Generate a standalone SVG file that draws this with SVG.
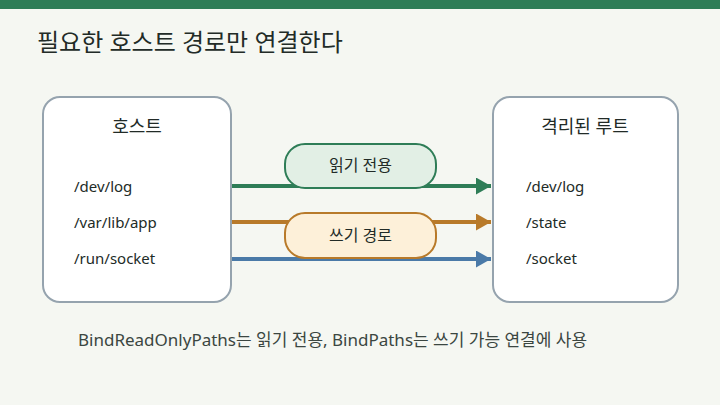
<svg xmlns="http://www.w3.org/2000/svg" width="720" height="405" viewBox="0 0 720 405">
<style>
text{font-family:"Noto Sans","Noto Sans CJK KR",sans-serif;fill:#222b27}
.box{fill:#ffffff;stroke:#95a3ae;stroke-width:2}
.path{font-size:15px}
.btitle{font-size:18px;text-anchor:middle}
.pill-t{font-size:16px;text-anchor:middle}
.ln{stroke-width:4;fill:none}
</style>
<defs>
<marker id="ag" viewBox="0 0 15 17" refX="15" refY="8.5" markerUnits="userSpaceOnUse" markerWidth="15" markerHeight="17" orient="auto"><path d="M0,0 L15,8.5 L0,17 Z" fill="#2e7d57"/></marker>
<marker id="ao" viewBox="0 0 15 17" refX="15" refY="8.5" markerUnits="userSpaceOnUse" markerWidth="15" markerHeight="17" orient="auto"><path d="M0,0 L15,8.5 L0,17 Z" fill="#b87a2a"/></marker>
<marker id="ab" viewBox="0 0 15 17" refX="15" refY="8.5" markerUnits="userSpaceOnUse" markerWidth="15" markerHeight="17" orient="auto"><path d="M0,0 L15,8.5 L0,17 Z" fill="#4a7aa8"/></marker>
</defs>
<rect x="0" y="0" width="720" height="405" fill="#f5f7f2"/>
<rect x="0" y="0" width="720" height="9" fill="#2e7d57"/>
<text x="37" y="51" font-size="24">필요한 호스트 경로만 연결한다</text>

<g id="host">
<rect class="box" x="43" y="97" width="188" height="205" rx="17"/>
<text class="btitle" x="137" y="133">호스트</text>
<text class="path" x="74" y="192">/dev/log</text>
<text class="path" x="74" y="228">/var/lib/app</text>
<text class="path" x="74" y="264">/run/socket</text>
</g>

<g id="root">
<rect class="box" x="493" y="97" width="185" height="205" rx="17"/>
<text class="btitle" x="585" y="133">격리된 루트</text>
<text class="path" x="526" y="192">/dev/log</text>
<text class="path" x="526" y="228">/state</text>
<text class="path" x="526" y="264">/socket</text>
</g>

<g id="connectors">
<line class="ln" x1="232" y1="186" x2="491" y2="186" stroke="#2e7d57" marker-end="url(#ag)"/>
<line class="ln" x1="232" y1="222" x2="491" y2="222" stroke="#b87a2a" marker-end="url(#ao)"/>
<line class="ln" x1="232" y1="259" x2="491" y2="259" stroke="#4a7aa8" marker-end="url(#ab)"/>
</g>

<g id="pill-read">
<rect x="285" y="144" width="151" height="44" rx="20" fill="#e2efe5" stroke="#2e7d57" stroke-width="2"/>
<text class="pill-t" x="360.5" y="171">읽기 전용</text>
</g>
<g id="pill-write">
<rect x="285" y="213" width="151" height="45" rx="20" fill="#fdf0d9" stroke="#b87a2a" stroke-width="2"/>
<text class="pill-t" x="360.5" y="241">쓰기 경로</text>
</g>

<text x="78" y="346" font-size="17" style="fill:#3b4641">BindReadOnlyPaths는 읽기 전용, BindPaths는 쓰기 가능 연결에 사용</text>
</svg>
